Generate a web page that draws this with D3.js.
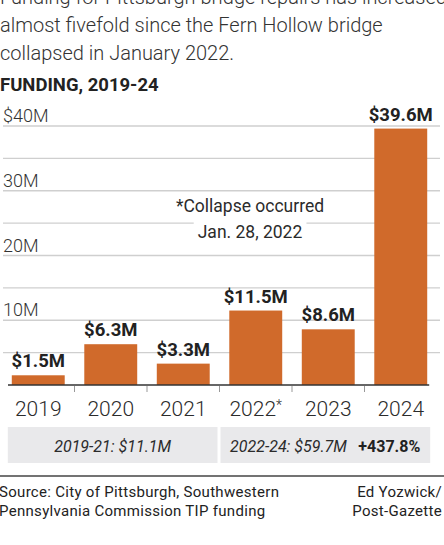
<!DOCTYPE html>
<html>
<head>
<meta charset="utf-8">
<script src="https://cdn.jsdelivr.net/npm/d3@7"></script>
<style>
  html, body { margin: 0; padding: 0; background: #fff; }
  svg { display: block; font-family: Roboto, "Open Sans", sans-serif; }
</style>
</head>
<body>
<svg id="chart" width="444" height="545"></svg>
<script>
// Funding by year, in millions of dollars
const years = ["2019", "2020", "2021", "2022", "2023", "2024"];
const funding = [1.5, 6.3, 3.3, 11.5, 8.6, 39.6];
const valueLabels = ["$1.5M", "$6.3M", "$3.3M", "$11.5M", "$8.6M", "$39.6M"];
const yTicks = [10, 20, 30, 40];
const yTickLabels = ["10M", "20M", "30M", "$40M"];
const gridValues = [5, 10, 15, 20, 25, 30, 35, 40];
const headline = [
  "Funding for Pittsburgh bridge repairs has increased",
  "almost fivefold since the Fern Hollow bridge",
  "collapsed in January 2022."
];
const summaries = [
  { from: "2019", to: "2021", text: "2019-21: $11.1M", extra: "" },
  { from: "2022", to: "2024", text: "2022-24: $59.7M", extra: "+437.8%" }
];
const noteLines = ["*Collapse occurred", "Jan. 28, 2022"];
const sourceLines = ["Source: City of Pittsburgh, Southwestern", "Pennsylvania Commission TIP funding"];
const creditLines = ["Ed Yozwick/", "Post-Gazette"];

const svg = d3.select("#chart");
const barColor = "#d06a2b";
const textColor = "#2b2b2b";

// Headline
svg.append("g").selectAll("text").data(headline).join("text")
  .attr("x", 0).attr("y", (d, i) => 4 + i * 28.2)
  .attr("font-size", 20).attr("font-weight", 300).attr("fill", "#333")
  .text(d => d);

svg.append("text").attr("x", 0).attr("y", 91)
  .attr("font-size", 18.5).attr("font-weight", 700).attr("fill", "#222")
  .text("FUNDING, 2019-24");

// Scales
const x = d3.scaleBand().domain(years).range([2, 437]).paddingInner(0.27).paddingOuter(0.135);
const y = d3.scaleLinear().domain([0, 40]).range([385, 126]);

// Gridlines
svg.append("g").selectAll("line").data(gridValues).join("line")
  .attr("x1", 3).attr("x2", 440)
  .attr("y1", d => y(d)).attr("y2", d => y(d))
  .attr("stroke", "#cfcfcf").attr("stroke-width", 1.3);

// Y tick labels
svg.append("g").selectAll("text").data(yTicks).join("text")
  .attr("x", 3).attr("y", d => y(d) - 4)
  .attr("font-size", 18).attr("font-weight", 300).attr("fill", "#333")
  .text((d, i) => yTickLabels[i]);

// Annotation with white backing so gridlines break around it
const note = svg.append("g");
noteLines.forEach((t, i) => {
  const tx = note.append("text").attr("x", 250).attr("y", 212 + i * 26)
    .attr("text-anchor", "middle").attr("font-size", 17.5).attr("font-weight", 400)
    .attr("fill", textColor).text(t);
  const bb = tx.node().getBBox();
  note.insert("rect", "text").attr("x", bb.x - 4).attr("y", bb.y)
    .attr("width", bb.width + 8).attr("height", bb.height).attr("fill", "#fff");
});

// Bars
const data = years.map((yr, i) => ({ yr, v: funding[i], label: valueLabels[i] }));
svg.append("g").selectAll("rect").data(data).join("rect")
  .attr("x", d => x(d.yr)).attr("width", x.bandwidth())
  .attr("y", d => y(d.v)).attr("height", d => y(0) - y(d.v))
  .attr("fill", barColor);

// Value labels
svg.append("g").selectAll("text").data(data).join("text")
  .attr("x", d => x(d.yr) + x.bandwidth() / 2).attr("y", d => y(d.v) - 8)
  .attr("text-anchor", "middle").attr("font-size", 18.5).attr("font-weight", 700)
  .attr("fill", "#222").text(d => d.label);

// Baseline and category separators
const step = x.step();
const gap = step * x.paddingInner();
svg.append("line").attr("x1", 8).attr("x2", x("2024") + x.bandwidth() + 2)
  .attr("y1", y(0)).attr("y2", y(0)).attr("stroke", "#333").attr("stroke-width", 1.6);
svg.append("g").selectAll("line").data(years.slice(0, -1)).join("line")
  .attr("x1", d => x(d) + x.bandwidth() + gap / 2).attr("x2", d => x(d) + x.bandwidth() + gap / 2)
  .attr("y1", y(0) + 1).attr("y2", y(0) + 7)
  .attr("stroke", "#999").attr("stroke-width", 1);

// Year labels
const yl = svg.append("g").selectAll("text").data(years).join("text")
  .attr("x", d => x(d) + x.bandwidth() / 2).attr("y", 416)
  .attr("text-anchor", "middle").attr("font-size", 21).attr("font-weight", 300)
  .attr("fill", textColor);
yl.append("tspan").text(d => d);
yl.filter(d => d === "2022").append("tspan")
  .attr("font-size", 14).attr("dy", -6).text("*");

// Period summary boxes
const boundary = d => x(d) + x.bandwidth() + gap / 2;
const sumG = svg.append("g");
summaries.forEach((s, i) => {
  const x0 = i === 0 ? x(s.from) - 4 : boundary("2021") + 1;
  const x1 = i === 0 ? boundary("2021") - 2 : x(s.to) + x.bandwidth() + 3;
  sumG.append("rect").attr("x", x0).attr("y", 427).attr("width", x1 - x0).attr("height", 36)
    .attr("fill", "#e9e9eb");
  if (!s.extra) {
    sumG.append("text").attr("x", (x0 + x1) / 2).attr("y", 451.5)
      .attr("text-anchor", "middle").attr("font-size", 16).attr("font-style", "italic")
      .attr("font-weight", 400).attr("fill", textColor).text(s.text);
  } else {
    sumG.append("text").attr("x", 230).attr("y", 451.5)
      .attr("font-size", 16).attr("font-style", "italic").attr("font-weight", 400)
      .attr("fill", textColor).text(s.text);
    sumG.append("text").attr("x", x1 - 10).attr("y", 451.5).attr("text-anchor", "end")
      .attr("font-size", 16).attr("font-weight", 700).attr("fill", "#222").text(s.extra);
  }
});

// Footer rule and credits
svg.append("line").attr("x1", 0).attr("x2", 444).attr("y1", 476).attr("y2", 476)
  .attr("stroke", "#444").attr("stroke-width", 1.5);
svg.append("g").selectAll("text").data(sourceLines).join("text")
  .attr("x", -1).attr("y", (d, i) => 497 + i * 18.5)
  .attr("font-size", 15).attr("letter-spacing", 0.3).attr("fill", "#222").text(d => d);
svg.append("g").selectAll("text").data(creditLines).join("text")
  .attr("x", 442).attr("y", (d, i) => 497 + i * 18.5).attr("text-anchor", "end")
  .attr("font-size", 15).attr("letter-spacing", 0.3).attr("fill", "#222").text(d => d);
</script>
</body>
</html>
